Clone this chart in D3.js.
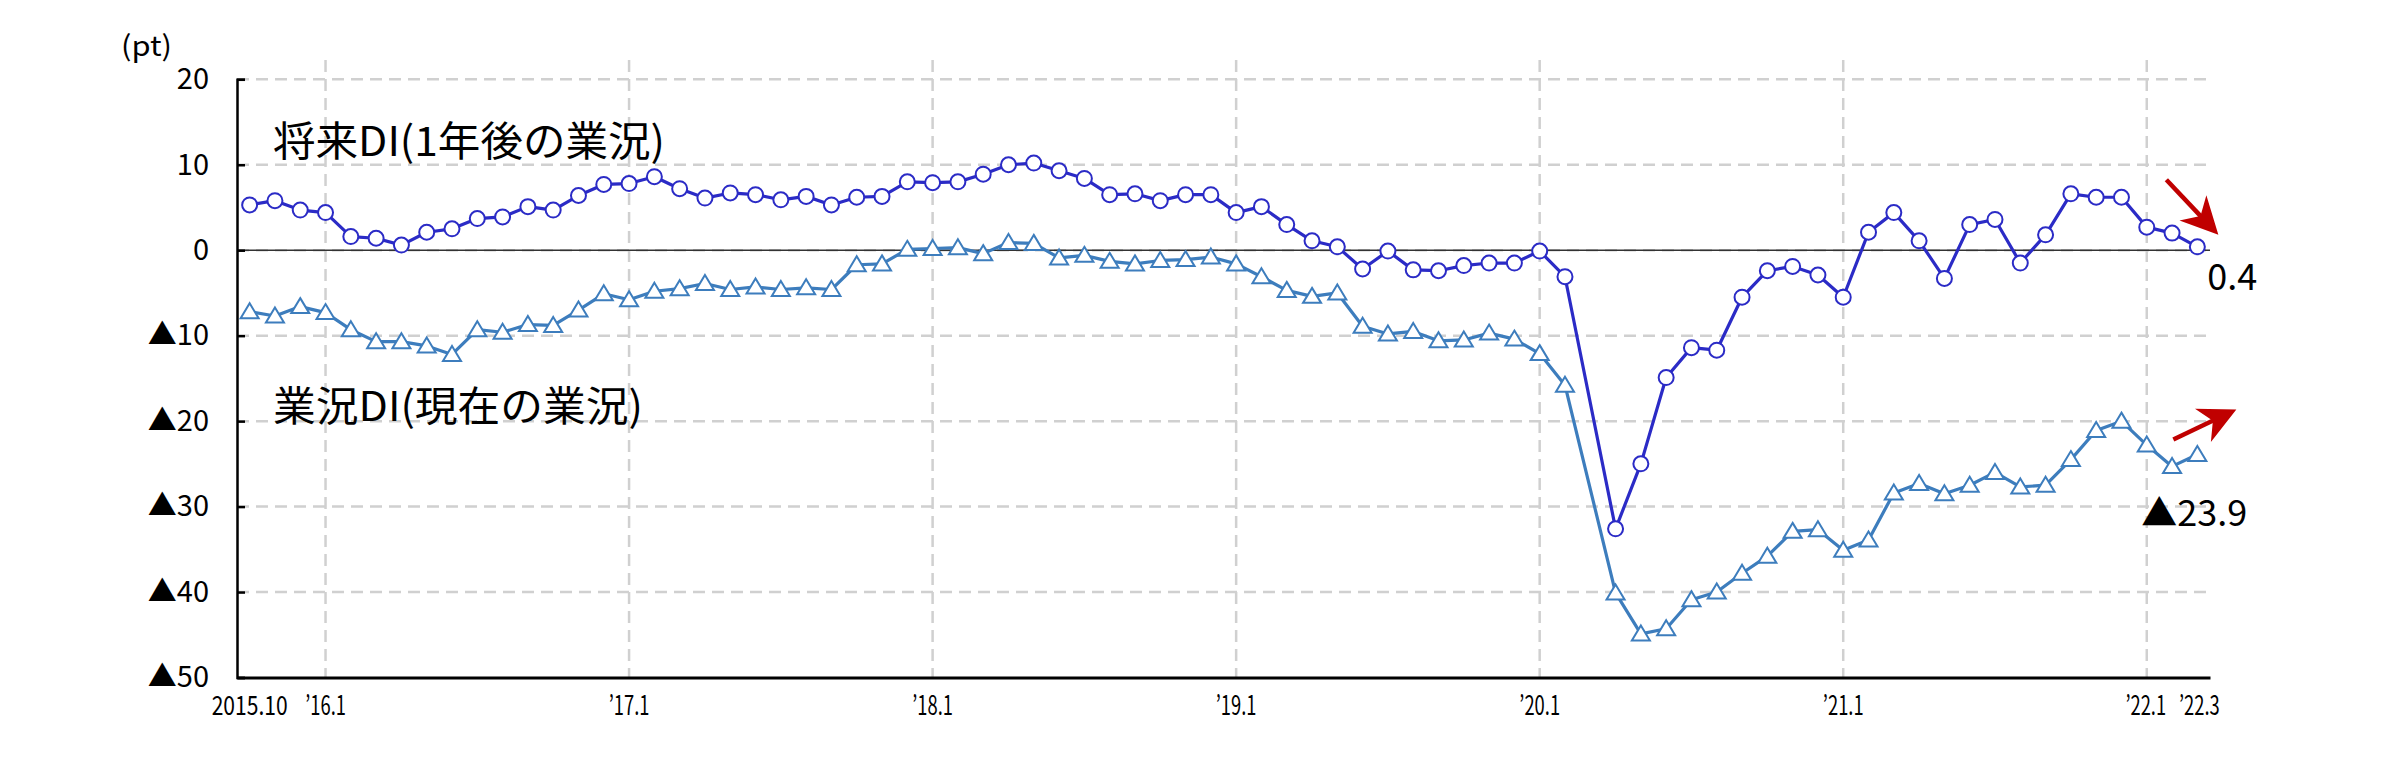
<!DOCTYPE html>
<html><head><meta charset="utf-8">
<script src="https://cdn.jsdelivr.net/npm/d3@7"></script>
<style>
html,body{margin:0;padding:0;background:#fff;}
svg{display:block;}
text{font-family:"Noto Sans CJK JP","Noto Sans",sans-serif;fill:#000;}
</style></head>
<body>
<svg id="chart" width="2392" height="784"></svg>
<script>
// ---- data ----
const months = [
 "2015.10","2015.11","2015.12",
 "2016.1","2016.2","2016.3","2016.4","2016.5","2016.6","2016.7","2016.8","2016.9","2016.10","2016.11","2016.12",
 "2017.1","2017.2","2017.3","2017.4","2017.5","2017.6","2017.7","2017.8","2017.9","2017.10","2017.11","2017.12",
 "2018.1","2018.2","2018.3","2018.4","2018.5","2018.6","2018.7","2018.8","2018.9","2018.10","2018.11","2018.12",
 "2019.1","2019.2","2019.3","2019.4","2019.5","2019.6","2019.7","2019.8","2019.9","2019.10","2019.11","2019.12",
 "2020.1","2020.2","2020.3","2020.4","2020.5","2020.6","2020.7","2020.8","2020.9","2020.10","2020.11","2020.12",
 "2021.1","2021.2","2021.3","2021.4","2021.5","2021.6","2021.7","2021.8","2021.9","2021.10","2021.11","2021.12",
 "2022.1","2022.2","2022.3"];
// 将来DI(1年後の業況)
const futureDI = [
 5.3,5.8,4.7,
 4.4,1.6,1.4,0.6,2.1,2.5,3.7,3.9,5.1,4.7,6.4,7.7,
 7.8,8.6,7.2,6.1,6.7,6.5,5.9,6.3,5.3,6.2,6.3,8.0,
 7.9,8.0,8.9,10.0,10.2,9.3,8.4,6.5,6.6,5.8,6.5,6.5,
 4.4,5.1,3.0,1.1,0.4,-2.2,-0.1,-2.3,-2.4,-1.8,-1.5,-1.5,
 -0.1,-3.1,null,-32.6,-25.0,-14.9,-11.4,-11.7,-5.5,-2.4,-1.9,-2.9,
 -5.5,2.1,4.4,1.1,-3.3,3.0,3.6,-1.5,1.8,6.6,6.2,6.2,
 2.7,2.0,0.4];
// 業況DI(現在の業況)
const currentDI = [
 -7.2,-7.7,-6.6,
 -7.3,-9.3,-10.7,-10.7,-11.2,-12.2,-9.3,-9.6,-8.7,-8.8,-7.0,-5.1,
 -5.8,-4.8,-4.5,-3.9,-4.6,-4.3,-4.6,-4.4,-4.6,-1.7,-1.6,0.1,
 0.2,0.3,-0.4,0.9,0.8,-0.9,-0.6,-1.3,-1.6,-1.2,-1.1,-0.8,
 -1.6,-3.1,-4.7,-5.4,-5.0,-8.9,-9.8,-9.5,-10.6,-10.5,-9.7,-10.4,
 -12.1,-15.8,null,-40.1,-44.9,-44.3,-40.9,-40.0,-37.8,-35.8,-32.9,-32.7,
 -35.1,-33.9,-28.4,-27.3,-28.5,-27.5,-26.0,-27.7,-27.5,-24.5,-21.1,-20.0,
 -22.8,-25.3,-23.9];
const xTickMonths = ["2015.10","2016.1","2017.1","2018.1","2019.1","2020.1","2021.1","2022.1","2022.3"];
const xTickLabels = ["2015.10","\u201916.1","\u201917.1","\u201918.1","\u201919.1","\u201920.1","\u201921.1","\u201922.1","\u201922.3"];
const xGridMonths = ["2016.1","2017.1","2018.1","2019.1","2020.1","2021.1","2022.1"];
const yTicks = [20,10,0,-10,-20,-30,-40,-50];
const yTickLabels = ["20","10","0","\u25B210","\u25B220","\u25B230","\u25B240","\u25B250"];
const seriesNames = ["将来DI(1年後の業況)","業況DI(現在の業況)"];
const lastLabels = ["0.4","\u25B223.9"];

(function(){
// ---- layout ----
const svg = d3.select("#chart");
const pL = 237, pR = 2210, pT = 79.3, pB = 677.5;
const x = d3.scaleBand().domain(months).range([pL, pR]).padding(0);
const cx = m => x(m) + x.bandwidth()/2;
const y = d3.scaleLinear().domain([-50, 20]).range([pB, pT]);

const colFuture = "#2b2bc6", colCurrent = "#3d7dbd", gridCol = "#d0d0d0";

// gridlines horizontal
svg.append("g").selectAll("line").data(yTicks.filter(v => v !== -50)).join("line")
  .attr("x1", pL).attr("x2", pR-4).attr("y1", d => y(d)).attr("y2", d => y(d))
  .attr("stroke", gridCol).attr("stroke-width", 2.5).attr("stroke-dasharray", "12,7");
// gridlines vertical
svg.append("g").selectAll("line").data(xGridMonths).join("line")
  .attr("x1", d => cx(d)).attr("x2", d => cx(d)).attr("y1", 60).attr("y2", pB)
  .attr("stroke", gridCol).attr("stroke-width", 2.5).attr("stroke-dasharray", "12,7");
// zero line
svg.append("line").attr("x1", pL).attr("x2", pR).attr("y1", y(0)).attr("y2", y(0))
  .attr("stroke", "#333").attr("stroke-width", 1.6);

// y axis
const yAxis = d3.axisLeft(y).tickValues(yTicks).tickSize(-8).tickPadding(28)
  .tickFormat((d,i) => yTickLabels[i]);
const gy = svg.append("g").attr("transform", `translate(${pL},0)`).call(yAxis);
gy.select(".domain").attr("stroke", "#000").attr("stroke-width", 2.5);
gy.selectAll(".tick line").attr("stroke", "#000").attr("stroke-width", 2.5);
gy.selectAll(".tick text").attr("font-size", 29).attr("font-family", '"Noto Sans CJK JP",sans-serif')
  .attr("fill", "#000").attr("x", -28);

// x axis
const xAxis = d3.axisBottom(x).tickValues(xTickMonths).tickSize(0).tickPadding(0)
  .tickFormat((d) => xTickLabels[xTickMonths.indexOf(d)]);
const gx = svg.append("g").attr("transform", `translate(0,${pB})`).call(xAxis);
gx.select(".domain").attr("stroke", "#000").attr("stroke-width", 3);
gx.selectAll(".tick text").attr("font-size", 27)
  .attr("font-family", '"Liberation Sans",Arial,sans-serif')
  .attr("fill", "#000").attr("dy", 0).attr("y", 0)
  .attr("transform", d => `translate(${d === "2022.3" ? 2 : (d === "2022.1" ? -1 : 0)},37) scale(${d === "2015.10" ? 0.78 : 0.68},1)`);

// (pt)
svg.append("text").attr("x", 121).attr("y", 56).attr("font-size", 28)
  .attr("textLength", 51).attr("lengthAdjust", "spacingAndGlyphs").text("(pt)");

// series
function drawSeries(vals, color, lw, shape) {
  const pts = months.map((m,i) => ({m, v: vals[i]})).filter(d => d.v !== null);
  const line = d3.line().x(d => cx(d.m)).y(d => y(d.v));
  svg.append("path").datum(pts).attr("d", line).attr("fill", "none")
    .attr("stroke", color).attr("stroke-width", lw).attr("stroke-linejoin", "round");
  const g = svg.append("g");
  if (shape === "circle") {
    g.selectAll("circle").data(pts).join("circle")
      .attr("cx", d => cx(d.m)).attr("cy", d => y(d.v)).attr("r", 7.5)
      .attr("fill", "#fff").attr("stroke", color).attr("stroke-width", 2);
  } else {
    g.selectAll("path").data(pts).join("path")
      .attr("d", d => { const X = cx(d.m), Y = y(d.v);
        return `M${X},${Y-8.5} L${X+9},${Y+6.5} L${X-9},${Y+6.5} Z`; })
      .attr("fill", "#fff").attr("stroke", color).attr("stroke-width", 2);
  }
  return pts[pts.length-1];
}
const lastCur = drawSeries(currentDI, colCurrent, 3.2, "triangle");
const lastFut = drawSeries(futureDI, colFuture, 3.2, "circle");

// series names
svg.append("text").attr("x", 273).attr("y", 156).attr("font-size", 41)
  .attr("textLength", 392).attr("lengthAdjust", "spacingAndGlyphs").text(seriesNames[0]);
svg.append("text").attr("x", 273).attr("y", 421).attr("font-size", 41)
  .attr("textLength", 370).attr("lengthAdjust", "spacingAndGlyphs").text(seriesNames[1]);

// last value labels
const fx = cx(lastFut.m), fy = y(lastFut.v);
const ux = cx(lastCur.m), uy = y(lastCur.v);
svg.append("text").attr("x", fx + 10).attr("y", fy + 43).attr("font-size", 36).text(lastLabels[0]);
svg.append("text").attr("x", ux - 56).attr("y", uy + 72).attr("font-size", 36).text(lastLabels[1]);

// red trend arrows
function arrow(sx, sy, tx, ty) {
  const dx = tx - sx, dy = ty - sy, L = Math.hypot(dx, dy), ex = dx/L, ey = dy/L;
  const px = -ey, py = ex;
  const hl = 37, hw = 18.5, notch = 11;
  const bx = tx - ex*hl, by = ty - ey*hl;
  const nx = tx - ex*(hl - notch), ny = ty - ey*(hl - notch);
  svg.append("line").attr("x1", sx).attr("y1", sy).attr("x2", nx + ex*2).attr("y2", ny + ey*2)
    .attr("stroke", "#c00000").attr("stroke-width", 4.5);
  svg.append("path").attr("d",
    `M${tx},${ty} L${bx + px*hw},${by + py*hw} L${nx},${ny} L${bx - px*hw},${by - py*hw} Z`)
    .attr("fill", "#c00000");
}
arrow(fx - 31, fy - 67, fx + 21, fy - 12);
arrow(ux - 24, uy - 15, ux + 39, uy - 45);
})();
</script>
</body></html>
